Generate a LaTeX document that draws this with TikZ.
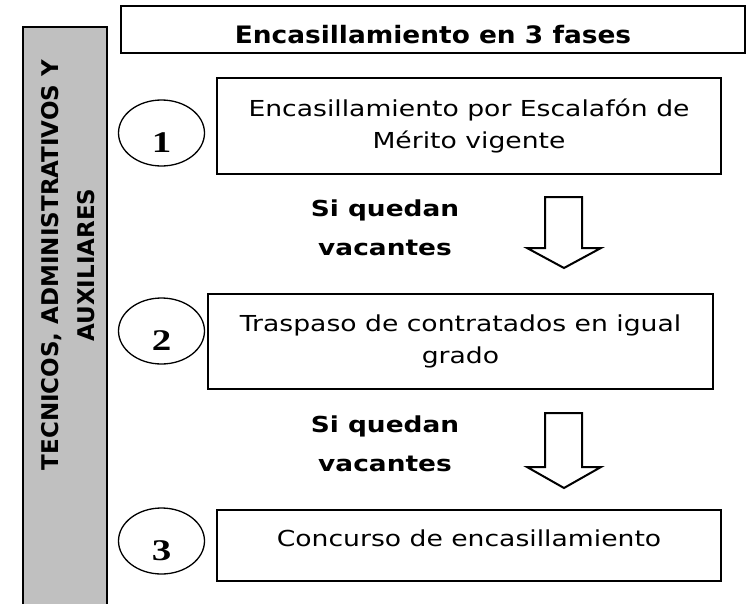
\documentclass[tikz,border=0pt]{standalone}
\usepackage{fontspec}
\setmainfont{DejaVu Sans}
\newfontfamily\boxfont{DejaVu Sans}[FakeStretch=1.21]
\newfontfamily\titlefont{DejaVu Sans}[FakeStretch=1.1]
\newfontfamily\condfont{DejaVu Sans}[FakeStretch=1.2]
\newfontfamily\numfont{Liberation Serif}[FakeStretch=1.3]
\usetikzlibrary{shapes.geometric}
\tikzset{
  stepbox/.style={draw, line width=2pt, inner sep=0pt, anchor=north west, align=center,
    font=\boxfont\fontsize{22}{32}\selectfont},
  numell/.style={ellipse, draw, line width=1.3pt, inner sep=0pt, minimum width=86pt,
    minimum height=66pt, font=\numfont\bfseries\fontsize{30}{30}\selectfont, text height=39pt, text depth=0pt},
  condlbl/.style={align=center, inner sep=0pt, font=\condfont\bfseries\fontsize{22}{39}\selectfont},
  blockarrow/.style={draw, line width=2pt, fill=white, line join=miter},
}
\begin{document}
\begin{tikzpicture}[x=1pt,y=-1pt]
\useasboundingbox[fill=white] (0,0) rectangle (753,603);
% side bar
\draw[line width=2pt, fill={rgb,255:red,192;green,192;blue,192}] (23,27) rectangle (107,615);
\node[rotate=90, align=center, inner sep=0pt, font=\bfseries\fontsize{23}{36}\selectfont] (side) at (68,265)
  {TECNICOS, ADMINISTRATIVOS Y\\AUXILIARES};
% title
\node[draw, line width=2pt, inner sep=0pt, anchor=north west, minimum width=624pt, minimum height=47pt,
  font=\titlefont\bfseries\fontsize{24}{30}\selectfont, text height=27pt, text depth=0pt] (title) at (120,5)
  {Encasillamiento en 3 fases};
% boxes
\node[stepbox, minimum width=504pt, minimum height=96pt] (b1) at (216,77)
  {Encasillamiento por Escalafón de\\Mérito vigente};
\node[stepbox, minimum width=505pt, minimum height=95pt] (b2) at (207,293)
  {Traspaso de contratados en igual\\grado};
\node[stepbox, minimum width=504pt, minimum height=71pt, text height=16.7pt, text depth=15.7pt] (b3) at (216,509)
  {Concurso de encasillamiento};
% circles
\node[numell] (c1) at (161.5,133) {1};
\node[numell] (c2) at (161.5,331) {2};
\node[numell] (c3) at (161.5,541) {3};
% conditions
\node[condlbl] (s1) at (385,228) {Si quedan\\vacantes};
\node[condlbl] (s2) at (385,444) {Si quedan\\vacantes};
% block arrows
\draw[blockarrow] (545,197) -- (582,197) -- (582,248) -- (601,248) -- (564,268) -- (527,248) -- (545,248) -- cycle;
\draw[blockarrow] (545,413) -- (582,413) -- (582,467) -- (601,467) -- (564,488) -- (527,467) -- (545,467) -- cycle;
\end{tikzpicture}
\end{document}
